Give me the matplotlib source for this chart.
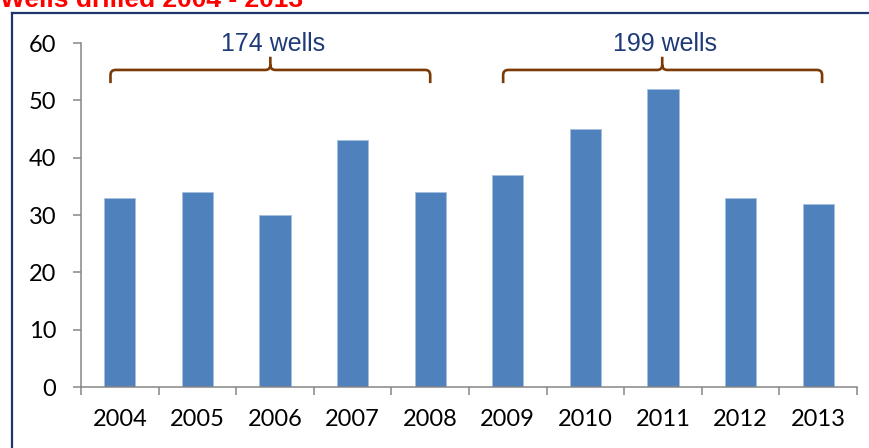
import matplotlib
matplotlib.use("Agg")
import matplotlib.pyplot as plt
from matplotlib.path import Path
from matplotlib.patches import PathPatch
from matplotlib.lines import Line2D

years = ["2004", "2005", "2006", "2007", "2008", "2009", "2010", "2011", "2012", "2013"]
wells = [33, 34, 30, 43, 34, 37, 45, 52, 33, 32]
groups = [("174 wells", -0.12, 4.0, 1.94), ("199 wells", 4.94, 9.05, 6.99)]
title = "Wells drilled 2004 - 2013"

W, H = 869, 448
fig = plt.figure(figsize=(W / 100, H / 100), dpi=100)
ax = fig.add_axes([81 / W, 1 - 387 / H, (857 - 81) / W, (387 - 43) / H])

x = list(range(len(years)))
ax.bar(x, wells, width=0.4, color="#4F81BD", edgecolor="#A8C0E0", linewidth=0.6, zorder=2)

ax.set_xlim(-0.5, len(years) - 0.5)
ax.set_ylim(0, 60)
ax.set_yticks(range(0, 61, 10))
ax.set_xticks(x)
ax.set_xticklabels(years)
ax.set_xticks([i - 0.5 for i in range(len(years) + 1)], minor=True)

axis_col = "#868686"
for s in ["top", "right"]:
    ax.spines[s].set_visible(False)
for s in ["left", "bottom"]:
    ax.spines[s].set_color(axis_col)
    ax.spines[s].set_linewidth(1.1)

ax.tick_params(axis="x", which="major", length=0, pad=16, labelsize=17)
ax.tick_params(axis="x", which="minor", length=5.5, width=1.1, color=axis_col, direction="out")
ax.tick_params(axis="y", which="major", length=5.8, width=1.1, color=axis_col, pad=12, labelsize=17)
for lab in ax.get_xticklabels() + ax.get_yticklabels():
    lab.set_fontfamily("Lato")
    lab.set_color("#000000")

# brackets
rx, ry = 0.065, 0.9
yh, yb, ytip = 55.3, 53.0, 57.6
brown = "#7B3A06"
for label, x0, x1, xm in groups:
    verts = [
        (x0, yb), (x0, yh - ry), (x0, yh), (x0 + rx, yh),
        (xm - rx, yh), (xm, yh), (xm, yh + ry), (xm, ytip),
        (xm, yh + ry), (xm, yh), (xm + rx, yh),
        (x1 - rx, yh), (x1, yh), (x1, yh - ry), (x1, yb),
    ]
    codes = [
        Path.MOVETO, Path.LINETO, Path.CURVE3, Path.CURVE3,
        Path.LINETO, Path.CURVE3, Path.CURVE3, Path.LINETO,
        Path.MOVETO, Path.CURVE3, Path.CURVE3,
        Path.LINETO, Path.CURVE3, Path.CURVE3, Path.LINETO,
    ]
    ax.add_patch(PathPatch(Path(verts, codes), facecolor="none", edgecolor=brown,
                           linewidth=1.9, clip_on=False, zorder=3))
    ax.text(xm + 0.03, 59.9, label, ha="center", va="center", fontsize=18,
            family="Liberation Sans", color="#1F3A78", clip_on=False)

# frame (top and left edges visible)
frame_col = "#1F3572"
fig.add_artist(Line2D([12 / W, 1.0], [1 - 13 / H, 1 - 13 / H], transform=fig.transFigure,
                      color=frame_col, linewidth=1.6))
fig.add_artist(Line2D([12 / W, 12 / W], [1 - 13 / H, 0.0], transform=fig.transFigure,
                      color=frame_col, linewidth=1.6))

fig.text(0.0, 1 - 7 / H, title, ha="left", va="baseline", fontsize=19,
         fontweight="bold", family="Liberation Sans", color="#FF0000")

fig.savefig("out.png", dpi=100)
